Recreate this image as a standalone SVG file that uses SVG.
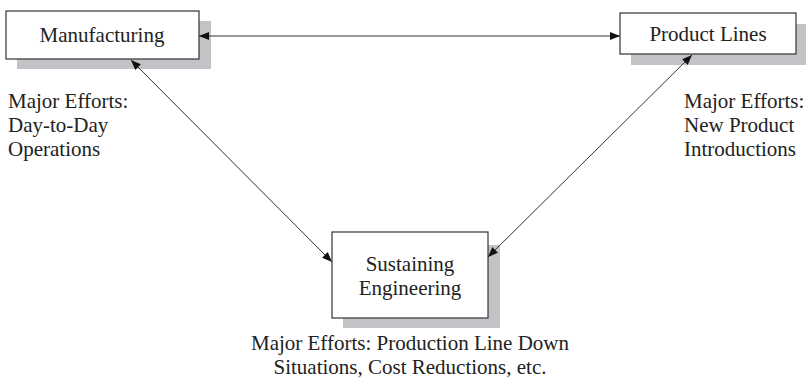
<svg xmlns="http://www.w3.org/2000/svg" width="806" height="380" viewBox="0 0 806 380">
<defs>
<style>
.box{fill:#fff;stroke:#333;stroke-width:1.2}
.shadow{fill:#c3c3c7}
.t{font-family:"Liberation Serif","Times New Roman",serif;font-size:21px;fill:#222}
.m{text-anchor:middle}
.c{stroke:#333;stroke-width:1;fill:none;marker-start:url(#ah);marker-end:url(#ah)}
</style>
<marker id="ah" markerUnits="userSpaceOnUse" markerWidth="11" markerHeight="9" refX="10" refY="4" orient="auto-start-reverse">
<path d="M0,0 L10,4 L0,8 z" fill="#111"/>
</marker>
</defs>
<rect width="806" height="380" fill="#fff"/>
<g id="manufacturing">
<rect class="shadow" x="17" y="21" width="194" height="48"/>
<rect class="box" x="6" y="11" width="193" height="48"/>
<text class="t m" x="102" y="42">Manufacturing</text>
</g>
<g id="product-lines">
<rect class="shadow" x="631" y="24" width="175" height="41"/>
<rect class="box" x="620" y="13" width="176" height="41"/>
<text class="t m" x="708" y="41">Product Lines</text>
</g>
<g id="sustaining-engineering">
<rect class="shadow" x="343" y="245" width="157" height="83"/>
<rect class="box" x="332" y="232" width="156" height="86"/>
<text class="t m" x="410" y="271">Sustaining</text>
<text class="t m" x="410" y="295">Engineering</text>
</g>
<g id="labels">
<text class="t" x="8" y="108">Major Efforts:</text>
<text class="t" x="8" y="132">Day-to-Day</text>
<text class="t" x="8" y="156">Operations</text>
<text class="t" x="684" y="108">Major Efforts:</text>
<text class="t" x="684" y="132">New Product</text>
<text class="t" x="684" y="156">Introductions</text>
<text class="t m" x="410" y="350">Major Efforts: Production Line Down</text>
<text class="t m" x="410" y="374">Situations, Cost Reductions, etc.</text>
</g>
<g id="connectors">
<line class="c" x1="199" y1="36" x2="620" y2="36"/>
<line class="c" x1="131" y1="60" x2="332" y2="262"/>
<line class="c" x1="692" y1="55" x2="488" y2="257"/>
</g>
</svg>
